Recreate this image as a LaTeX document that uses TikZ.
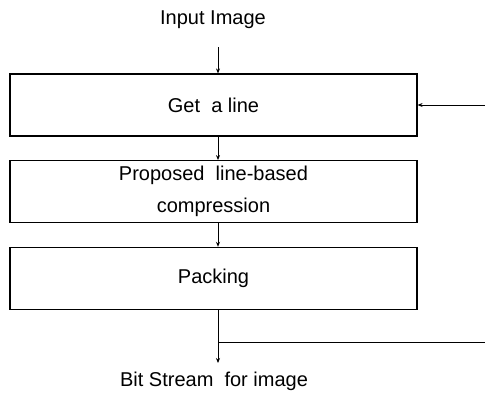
\documentclass[tikz,border=0pt]{standalone}
\usepackage{fontspec}
\setmainfont{Liberation Sans}
\usetikzlibrary{arrows.meta, positioning}
\tikzstyle{process} = [
    rectangle,
    minimum width=407pt,
    minimum height=62pt,
    text centered,
    align=center,
    draw=black,
    line width=1.2pt,
    font=\fontsize{20}{32}\selectfont
]
\tikzstyle{label} = [font=\fontsize{20}{24}\selectfont]
\tikzstyle{arrow} = [line width=0.8pt,-{Stealth[length=5pt,width=4pt]}]
\tikzstyle{line} = [line width=0.8pt]

\begin{document}
\begin{tikzpicture}[node distance=23.5pt]
\useasboundingbox (0,0) rectangle (485pt,-393pt);

% Nodes
\node (get) [process] at (213.5pt,-105pt) {Get~~a line};
\node (prop) [process, below=of get] {Proposed~~line-based\\compression};
\node (pack) [process, below=of prop] {Packing};
\node (input) [label] at (213pt,-20pt) {Input Image};
\node (bits) [label] at (214pt,-381pt) {Bit Stream~~for image};

% Free ends
\coordinate (top) at ([xshift=4.5pt,yshift=26pt]get.north);
\coordinate (out) at ([xshift=4.5pt,yshift=-53pt]pack.south);
\coordinate (split) at ([xshift=4.5pt,yshift=-32pt]pack.south);
\coordinate (right) at (485pt,0 |- split);
\coordinate (back) at (485pt,0 |- get.east);

% Arrows
\draw [arrow] (top) -- (top |- get.north);
\draw [arrow] ([xshift=4.5pt]get.south) -- ([xshift=4.5pt]prop.north);
\draw [arrow] ([xshift=4.5pt]prop.south) -- ([xshift=4.5pt]pack.north);
\draw [arrow] ([xshift=4.5pt]pack.south) -- (out);
\draw [line] (split) -- (right);
\draw [arrow] (back) -- (get.east);

\end{tikzpicture}
\end{document}
